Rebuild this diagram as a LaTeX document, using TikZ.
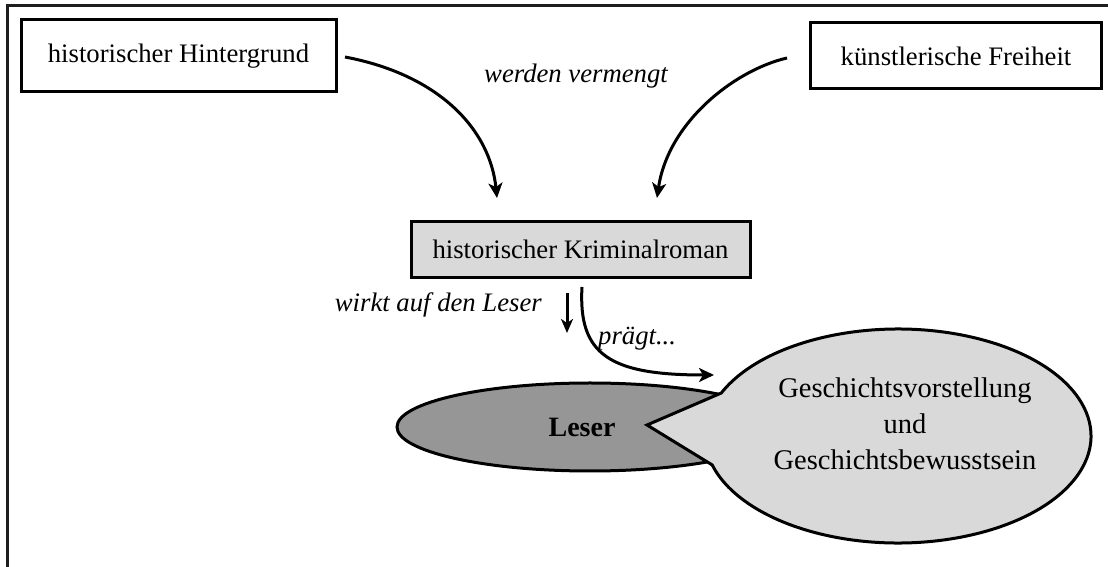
\documentclass[tikz,border=0pt]{standalone}
\usepackage{fontspec}
\setmainfont{Liberation Serif}
\usetikzlibrary{arrows.meta,shapes.geometric}
\begin{document}
\begin{tikzpicture}[x=1pt,y=1pt,
  itxt/.style={font=\fontsize{26.7}{32}\selectfont\itshape, inner sep=0pt},
  box/.style={draw=black, line width=3pt, rectangle, inner sep=0pt, font=\fontsize{26.7}{32}\selectfont},
  arr/.style={line width=3pt, -{Stealth[length=15pt,width=14pt,inset=4pt]}},
  lightfill/.style={fill={rgb,255:red,217;green,217;blue,217}},
  darkfill/.style={fill={rgb,255:red,150;green,150;blue,150}}]
\useasboundingbox (0,0) rectangle (1108,567);
% frame
\draw[line width=3pt, color={rgb,255:red,30;green,30;blue,30}] (7,-5) -- (7,561) -- (1115,561);
% boxes
\node[box, minimum width=315pt, minimum height=72pt] (b1) at (178.5,511) {historischer Hintergrund};
\node[box, minimum width=291pt, minimum height=66pt] (b2) at (956,511) {künstlerische Freiheit};
\node[box, lightfill, minimum width=339pt, minimum height=56pt] (krim) at (580.5,317.5) {historischer Kriminalroman};
\node[itxt, anchor=base] (vermengt) at (576,484) {werden vermengt};
% arrows from top boxes
\coordinate (a1s) at (345,510);
\coordinate (a1e) at (497,369);
\coordinate (a2s) at (787,509);
\coordinate (a2e) at (657,369);
\draw[arr] (a1s) .. controls (440,492) and (490,437) .. (a1e);
\draw[arr] (a2s) .. controls (735,497) and (668,445) .. (a2e);
% wirkt auf den Leser
\node[itxt, anchor=base east] (wirkt) at (542,255) {wirkt auf den Leser};
\coordinate (d1s) at (567,274);
\coordinate (d1e) at (567,234);
\draw[line width=3pt, -{Stealth[length=14pt,width=12pt,inset=4pt]}] (d1s) -- (d1e);
% praegt
\coordinate (p1s) at (582,280);
\coordinate (p1e) at (714,192);
\draw[arr] (p1s) .. controls (578,212) and (610,192) .. (p1e);
\node[itxt, anchor=base west] (praegt) at (598,222) {prägt...};
% Leser ellipse
\node[ellipse, draw=black, line width=3pt, darkfill, minimum width=386pt, minimum height=88pt, inner sep=0pt,
  font=\fontsize{28}{32}\selectfont\bfseries] (leser) at (590,140) {\hspace*{-16pt}Leser};
% bubble
\coordinate (tip) at (647,142);
\draw[line width=3pt, lightfill, line join=miter] (tip) -- (721.3,174)
  arc[start angle=156.3, end angle=-164.3, x radius=193pt, y radius=107pt] -- cycle;
\node[align=center, inner sep=0pt, font=\fontsize{28.5}{36}\selectfont, anchor=base] (bubble) at (905,97)
  {Geschichtsvorstellung\\und\\Geschichtsbewusstsein};
\end{tikzpicture}
\end{document}
